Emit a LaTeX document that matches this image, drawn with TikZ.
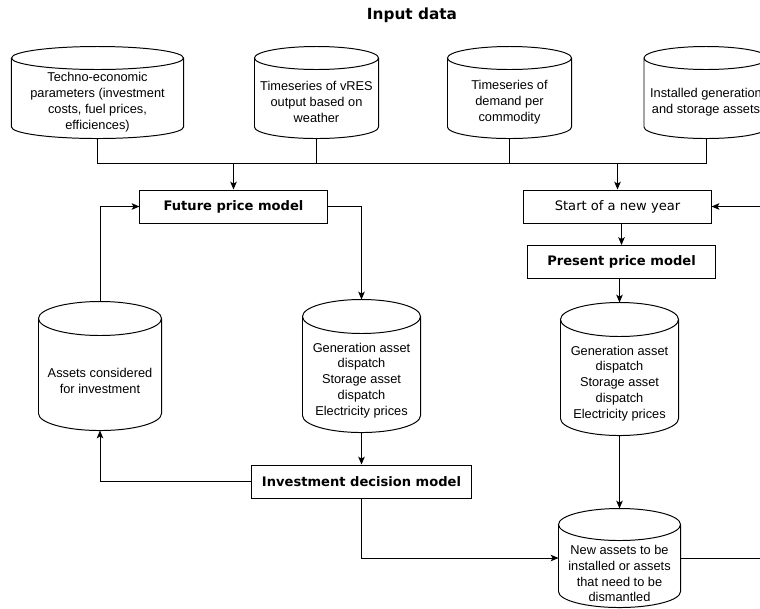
\documentclass[tikz,border=0pt]{standalone}
\usepackage{fontspec}
\setmainfont{Liberation Sans}
\newfontfamily\verafont{DejaVu Sans}
\usetikzlibrary{positioning,calc,arrows.meta}

\begin{document}
\begin{tikzpicture}[x=0.025cm, y=-0.025cm, line width=0.7pt,
    >={Stealth[length=5.5pt, width=4.6pt, inset=1.2pt]},
    every node/.style={font=\fontsize{9.1}{11.2}\selectfont, align=center},
    db/.style={inner sep=0pt},
    model/.style={draw, minimum width=4.675cm, minimum height=0.825cm,
        font=\verafont\fontsize{9.3}{11}\selectfont},
    boldmodel/.style={model, font=\verafont\bfseries\fontsize{9.3}{11}\selectfont}]
    \useasboundingbox (0,0) rectangle (760,608);

    % Title
    \node[font=\verafont\bfseries\fontsize{10.9}{12}\selectfont] (title) at (412,15) {Input data};

    % Input data cylinders
    \node[db, minimum width=4.275cm, minimum height=2.275cm] (techno) at (97.5,92.5) {};
    \node[db, minimum width=3.075cm, minimum height=2.275cm] (vres) at (316.5,92.5) {};
    \node[db, minimum width=3.075cm, minimum height=2.275cm] (demand) at (509.5,92.5) {};
    \node[db, minimum width=3.075cm, minimum height=2.275cm] (installed) at (706,92.5) {};
    \node (techno-text) at ([yshift=-0.24cm]techno.center)
        {Techno-economic\\parameters (investment\\costs, fuel prices,\\efficiences)};
    \node (vres-text) at ([yshift=-0.24cm]vres.center) {Timeseries of vRES\\output based on\\weather};
    \node (demand-text) at ([yshift=-0.24cm]demand.center) {Timeseries of\\demand per\\commodity};
    \node (installed-text) at ([yshift=-0.24cm]installed.center) {Installed generation\\and storage assets};

    % Model boxes
    \node[boldmodel] (future) at (233.5,206.5) {Future price model};
    \node[model] (start) at (617.5,206.5) {Start of a new year};
    \node[boldmodel] (present) at (621.5,262) {Present price model};
    \node[boldmodel, minimum width=5.475cm] (invest) at (361.5,481.5) {Investment decision model};

    % Result cylinders
    \node[db, minimum width=2.925cm, minimum height=3.3cm] (futdisp) at (361.5,366) {};
    \node[db, minimum width=2.925cm, minimum height=3.3cm] (presdisp) at (619.5,369) {};
    \node[db, minimum width=3.05cm, minimum height=3.2cm] (candidates) at (100,366) {};
    \node[db, minimum width=3.025cm, minimum height=2.45cm] (newassets) at (619.5,558) {};
    \node (futdisp-text) at ([yshift=-0.36cm]futdisp.center)
        {Generation asset\\dispatch\\Storage asset\\dispatch\\Electricity prices};
    \node (presdisp-text) at ([yshift=-0.36cm]presdisp.center)
        {Generation asset\\dispatch\\Storage asset\\dispatch\\Electricity prices};
    \node (candidates-text) at ([yshift=-0.375cm]candidates.center) {Assets considered\\for investment};
    \node (newassets-text) at ([yshift=-0.39cm]newassets.center)
        {New assets to be\\installed or assets\\that need to be\\dismantled};

    % Cylinder outlines
    \foreach \cyl/\ry in {techno/11.5, vres/11.5, demand/11.5, installed/11.5,
                          futdisp/17, presdisp/17, candidates/17, newassets/16}
        \draw let \p1=(\cyl.north west), \p2=(\cyl.south east),
                  \n1={(\x2-\x1)/2}, \n2={\ry*0.025cm} in
            (\x1,\y1-\n2) -- (\x1,\y2+\n2)
            arc[start angle=180, end angle=360, x radius=\n1, y radius=\n2]
            -- (\x2,\y1-\n2)
            arc[start angle=0, end angle=360, x radius=\n1, y radius=\n2];

    % Input bus
    \coordinate (busL) at (97.5,163);
    \coordinate (busR) at (706,163);
    \draw (techno.south) -- (busL) -- (busR) -- (installed.south);
    \draw (vres.south) -- (vres.south |- busL);
    \draw (demand.south) -- (demand.south |- busL);
    \draw[->] (future.north |- busL) -- (future.north);
    \draw[->] (start.north |- busL) -- (start.north);

    % Investment loop
    \draw[->] (future.east) -| (futdisp.north);
    \draw[->] (futdisp.south) -- (invest.north);
    \draw[->] (invest.west) -| (candidates.south);
    \draw[->] (candidates.north) |- (future.west);
    \draw[->] (invest.south) |- (newassets.west);

    % Yearly loop
    \draw[->] (present.north |- start.south) -- (present.north);
    \draw[->] (presdisp.north |- present.south) -- (presdisp.north);
    \draw[->] (presdisp.south) -- (newassets.north);
    \coordinate (edgeB) at (760,558);
    \coordinate (edgeT) at (760,206.5);
    \draw (newassets.east) -- (edgeB);
    \draw[->] (edgeT) -- (start.east);
\end{tikzpicture}
\end{document}
